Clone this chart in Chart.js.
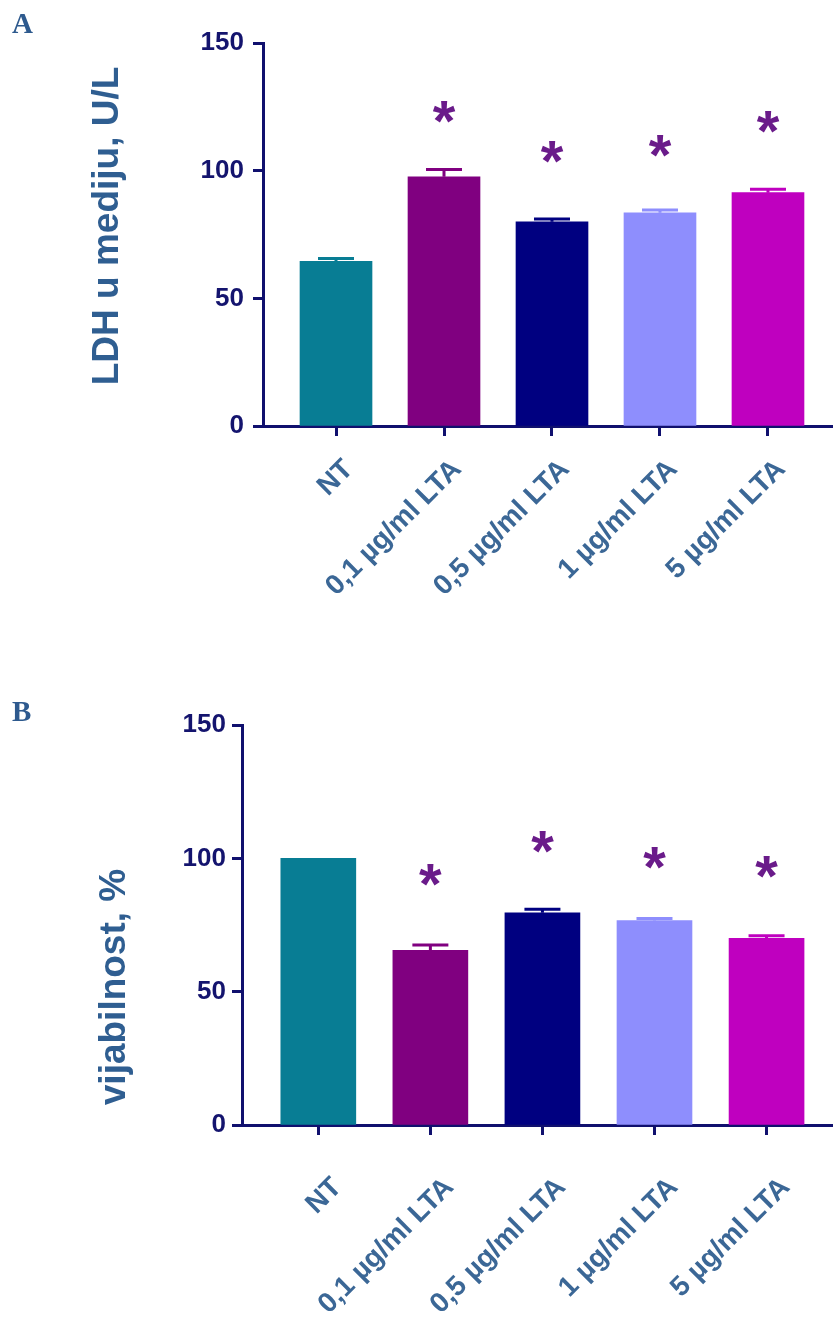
<!DOCTYPE html>
<html>
<head>
<meta charset="utf-8">
<script src="https://cdn.jsdelivr.net/npm/chart.js@4.4.0/dist/chart.umd.min.js"></script>
<style>
  html, body { margin: 0; padding: 0; background: #fff; }
  #wrap { position: relative; width: 833px; height: 1318px; overflow: hidden; }
  canvas { position: absolute; left: 0; }
  .panel { position: absolute; left: 12px; font: bold 29px 'Liberation Serif', 'Times New Roman', serif; line-height: 29px; color: #2e5a8e; }
</style>
</head>
<body>
<div id="wrap">
  <canvas id="chartA" width="833" height="690" style="top:0"></canvas>
  <canvas id="chartB" width="833" height="628" style="top:690px"></canvas>
  <div class="panel" style="top:9px">A</div>
  <div class="panel" style="top:697px">B</div>
</div>
<script>
const categories = ['NT', '0,1 µg/ml LTA', '0,5 µg/ml LTA', '1 µg/ml LTA', '5 µg/ml LTA'];
const barColors = ['#087d94', '#800080', '#000080', '#8e8efd', '#bf00bf'];

// panel A: LDH in medium
const ldhMeans = [64.5, 97.6, 80.0, 83.5, 91.4];
const ldhErrors = [1.1, 2.9, 1.1, 1.1, 1.3];
const ldhStars = [null, 123, 107.5, 109.5, 119];

// panel B: viability
const viabMeans = [100, 65.5, 79.6, 76.7, 70.0];
const viabErrors = [0, 2.0, 1.3, 0.7, 1.0];
const viabStars = [null, 93.7, 106.2, 100.1, 96.9];

const yMin = 0, yMax = 150, yStep = 50;

const axisColor = '#10106e';
const tickLabelColor = '#14146e';
const titleColor = '#2f5e91';
const xLabelColor = '#3b6796';
const starColor = '#6a1b8a';
const sans = "'Liberation Sans', Arial, sans-serif";

function makeChart(id, cfg) {
    // error bars, asterisks and the rotated y title
    const extras = {
        id: 'extras',
        afterDatasetsDraw(chart) {
            const ctx = chart.ctx;
            const xs = chart.scales.x, ys = chart.scales.y;
            ctx.save();
            cfg.means.forEach((m, i) => {
                const x = xs.getPixelForValue(i);
                const err = cfg.errors[i];
                if (err > 0) {
                    const yb = ys.getPixelForValue(m);
                    const yt = ys.getPixelForValue(m + err);
                    ctx.strokeStyle = barColors[i];
                    ctx.lineWidth = 3;
                    ctx.beginPath();
                    ctx.moveTo(x, yb);
                    ctx.lineTo(x, yt);
                    ctx.moveTo(x - cfg.capHalf, yt);
                    ctx.lineTo(x + cfg.capHalf, yt);
                    ctx.stroke();
                }
                const s = cfg.stars[i];
                if (s != null) {
                    ctx.font = 'bold 58px ' + sans;
                    ctx.fillStyle = starColor;
                    ctx.textAlign = 'center';
                    ctx.textBaseline = 'alphabetic';
                    const mt = ctx.measureText('*');
                    const yc = ys.getPixelForValue(s);
                    ctx.fillText('*', x, yc + (mt.actualBoundingBoxAscent - mt.actualBoundingBoxDescent) / 2);
                }
            });
            ctx.restore();
        },
        afterDraw(chart) {
            const ctx = chart.ctx;
            ctx.save();
            ctx.translate(cfg.titleX, cfg.titleY);
            ctx.rotate(-Math.PI / 2);
            ctx.font = 'bold 37px ' + sans;
            ctx.fillStyle = titleColor;
            ctx.textAlign = 'center';
            ctx.textBaseline = 'alphabetic';
            ctx.fillText(cfg.title, 0, 0);
            ctx.restore();
        }
    };

    return new Chart(document.getElementById(id), {
        type: 'bar',
        data: {
            datasets: [{
                data: cfg.means.map((v, i) => ({ x: i, y: v })),
                backgroundColor: barColors,
                borderWidth: 0,
                barThickness: cfg.barWidth
            }]
        },
        options: {
            responsive: false,
            animation: false,
            layout: { padding: { top: cfg.top, left: 0, right: 0, bottom: 0 } },
            plugins: { legend: { display: false }, tooltip: { enabled: false } },
            scales: {
                x: {
                    type: 'linear',
                    min: cfg.xMin,
                    max: cfg.xMax,
                    offset: false,
                    afterBuildTicks: (scale) => { scale.ticks = categories.map((c, i) => ({ value: i })); },
                    afterFit: (scale) => { scale.height = cfg.xHeight; },
                    border: { display: true, color: axisColor, width: 3 },
                    grid: { offset: false, drawOnChartArea: false, drawTicks: true, tickLength: 10, tickWidth: 3, tickColor: axisColor },
                    ticks: {
                        autoSkip: false,
                        minRotation: 45,
                        maxRotation: 45,
                        padding: cfg.xPad,
                        labelOffset: cfg.xShift,
                        color: xLabelColor,
                        font: { family: sans, size: 28, weight: 'bold' },
                        callback: (v) => categories[v] ?? ''
                    }
                },
                y: {
                    min: yMin,
                    max: yMax,
                    afterFit: (scale) => { scale.width = cfg.left; },
                    border: { display: true, color: axisColor, width: 3 },
                    grid: { drawOnChartArea: false, drawTicks: true, tickLength: 10, tickWidth: 3, tickColor: axisColor },
                    ticks: {
                        stepSize: yStep,
                        padding: cfg.yPad,
                        color: tickLabelColor,
                        font: { family: sans, size: 26, weight: 'bold' }
                    }
                }
            }
        },
        plugins: [extras]
    });
}

makeChart('chartA', {
    means: ldhMeans, errors: ldhErrors, stars: ldhStars,
    title: 'LDH u mediju, U/L', titleX: 118, titleY: 226,
    top: 43, left: 263, xHeight: 690 - 426,
    xMin: -0.676, xMax: 4.602, barWidth: 72, capHalf: 18,
    xPad: 17, xShift: 13, yPad: 9
});

makeChart('chartB', {
    means: viabMeans, errors: viabErrors, stars: viabStars,
    title: 'vijabilnost, %', titleX: 125, titleY: 297,
    top: 35, left: 242, xHeight: 628 - 435,
    xMin: -0.681, xMax: 4.593, barWidth: 75, capHalf: 18,
    xPad: 36, xShift: 19, yPad: 6
});
</script>
</body>
</html>
